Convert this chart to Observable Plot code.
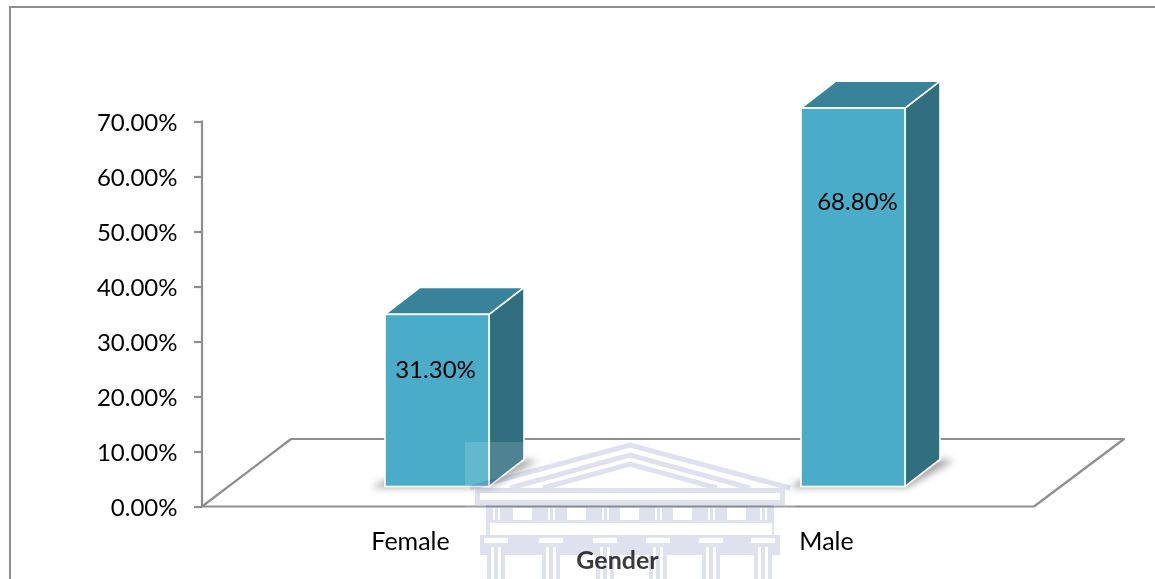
<!DOCTYPE html>
<html>
<head>
<meta charset="utf-8">
<script src="https://cdn.jsdelivr.net/npm/d3@7"></script>
<script src="https://cdn.jsdelivr.net/npm/@observablehq/plot@0.6"></script>
<style>
html,body{margin:0;padding:0;background:#fff;overflow:hidden}
#wrap{position:relative;width:1155px;height:579px;overflow:hidden}
#wrap svg{position:absolute;left:0;top:0}
</style>
</head>
<body>
<div id="wrap"></div>
<script>
const categories = ["Female", "Male"];
const values = [31.3, 68.8];
const labels = ["31.30%", "68.80%"];
const labelLevels = [24.8, 55.4];
const labelShift = [25, 31];
const yTicks = [0, 10, 20, 30, 40, 50, 60, 70];
const axisTitle = "Gender";

const rows = categories.map((c, i) => ({c, v: values[i], t: labels[i], l: labelLevels[i], s: labelShift[i]}));

const grey = "#8e8e8e", front = "#4aacc8", topFace = "#38839a", sideFace = "#316f80";
const lift = {dx: 27, dy: -20};      // bars stand in the middle of the floor
const depth = {dx: 35, dy: -27};     // depth of each bar
const floor = {dx: 89, dy: -67.5};   // depth of the floor
const NS = "http://www.w3.org/2000/svg";
const el = (tag, attrs) => {
  const n = document.createElementNS(NS, tag);
  for (const k in attrs) n.setAttribute(k, attrs[k]);
  return n;
};

const frameMark = (i, s, v, d) => {
  const g = el("g", {fill: "none", stroke: grey, "stroke-width": 2});
  g.append(el("path", {d: `M10,${d.height}V7H${d.width}`}));
  return g;
};

const floorMark = (i, s, v, d) => {
  const l = d.marginLeft, r = d.width - d.marginRight, y0 = s.y(0);
  const g = el("g", {fill: "none", stroke: grey, "stroke-width": 2.2, "stroke-linejoin": "round"});
  g.append(el("path", {d: `M${l},${y0}L${l + floor.dx},${y0 + floor.dy}H${r + floor.dx + 1}L${r},${y0}Z`}));
  g.append(el("path", {d: `M${l},${y0 + 1}V${s.y(70) - 1}`}));
  return g;
};

const shadowMark = (i, s, v, d) => {
  const g = el("g", {fill: "#666", opacity: 0.6, style: "filter:blur(3.5px)"});
  const bw = typeof s.x.bandwidth === "function" ? s.x.bandwidth() : (d.width - d.marginLeft - d.marginRight) / 8;
  for (const r of rows) {
    const x = s.x(r.c) + lift.dx, b = s.y(0) + lift.dy;
    g.append(el("path", {d: `M${x - 14},${b + 1}L${x + bw + 2},${b + 1}L${x + bw + depth.dx + 14},${b + depth.dy + 1}L${x + bw + depth.dx},${b + depth.dy}L${x + 5},${b - 8}Z`}));
  }
  return g;
};

const depthMark = (i, s, v, d) => {
  const g = el("g", {stroke: "#fff", "stroke-width": 1.6, "stroke-linejoin": "round"});
  const bw = typeof s.x.bandwidth === "function" ? s.x.bandwidth() : (d.width - d.marginLeft - d.marginRight) / 8;
  for (const r of rows) {
    const x = s.x(r.c) + lift.dx, x2 = x + bw, t = s.y(r.v) + lift.dy, b = s.y(0) + lift.dy;
    g.append(el("path", {fill: sideFace, d: `M${x2},${t}L${x2 + depth.dx},${t + depth.dy}V${b + depth.dy}L${x2},${b}Z`}));
    g.append(el("path", {fill: topFace, d: `M${x},${t}L${x + depth.dx},${t + depth.dy}H${x2 + depth.dx}L${x2},${t}Z`}));
  }
  return g;
};

const chart = Plot.plot({
  width: 1155,
  height: 579,
  marginLeft: 202,
  marginRight: 121,
  marginTop: 121.5,
  marginBottom: 72.5,
  style: {fontFamily: "Lato, sans-serif", fontSize: "24px", background: "transparent", color: "#000", overflow: "visible"},
  x: {type: "band", domain: categories, paddingInner: 0.75, paddingOuter: 0.375, label: null},
  y: {domain: [0, 70], label: null},
  marks: [
    frameMark,
    floorMark,
    shadowMark,
    depthMark,
    Plot.barY(rows, {x: "c", y: "v", fill: front, stroke: "#fff", strokeWidth: 1.6, dx: lift.dx, dy: lift.dy}),
    ...rows.map(r => Plot.text([r], {x: "c", y: "l", text: "t", dx: r.s, fontSize: 24, fill: "#000"})),
    Plot.axisY({ticks: yTicks, text: null, tickSize: 8, stroke: grey, strokeWidth: 2.2, label: null}),
    Plot.axisY({ticks: yTicks, tickFormat: d => d.toFixed(2) + "%", tickSize: 0, tickPadding: 25, dy: 1.5, fontSize: 24, fill: "#000", label: null}),
    Plot.axisX({tickSize: 0, tickPadding: 25, dy: 0.5, fontSize: 25, fill: "#000", label: null}),
    Plot.text([axisTitle], {frameAnchor: "bottom", dy: 54, dx: -1, fontWeight: "bold", fontSize: 25, fill: "#1a1a1a", lineAnchor: "middle"})
  ]
});
document.getElementById("wrap").append(chart);

// University crest watermark laid over the chart
const lav = "#dfe1ef";
const col = [487, 542, 596, 649, 702, 754];
const metope = [513, 567, 620, 673, 727];
let wm = `<rect x="465" y="442" width="330" height="137" fill="#fff" opacity=".14"/>`;
wm += `<g style="mix-blend-mode:multiply;filter:blur(.7px)" fill="${lav}" stroke="none">`;
wm += `<g fill="none" stroke="${lav}" stroke-width="5"><path d="M470,488L630,445L790,488"/><path d="M510,488L630,455L750,488"/><path d="M543,488L630,464L717,488"/></g>`;
wm += `<rect x="475" y="488" width="310" height="17"/><rect x="480" y="493" width="300" height="7" fill="#fff"/>`;
wm += `<rect x="486" y="505" width="288" height="30"/><rect x="490" y="523" width="282" height="12" fill="#fff"/>`;
for (const m of metope) wm += `<rect x="${m}" y="508" width="19" height="12" fill="#fff"/>`;
for (const c of col) wm += `<rect x="${c + 6}" y="508" width="2" height="12" fill="#fff"/><rect x="${c + 11}" y="508" width="2" height="12" fill="#fff"/>`;
wm += `<rect x="480" y="535" width="300" height="20"/>`;
for (const c of col) {
  wm += `<rect x="${c - 3}" y="538" width="24" height="5" fill="#fff"/>`;
  wm += `<rect x="${c}" y="543" width="18" height="36"/><rect x="${c + 4}" y="547" width="3" height="32" fill="#fff"/><rect x="${c + 11}" y="547" width="3" height="32" fill="#fff"/>`;
}
wm += `</g>`;
const over = document.createElementNS(NS, "svg");
over.setAttribute("width", 1155);
over.setAttribute("height", 579);
over.innerHTML = wm;
document.getElementById("wrap").append(over);
</script>
</body>
</html>
